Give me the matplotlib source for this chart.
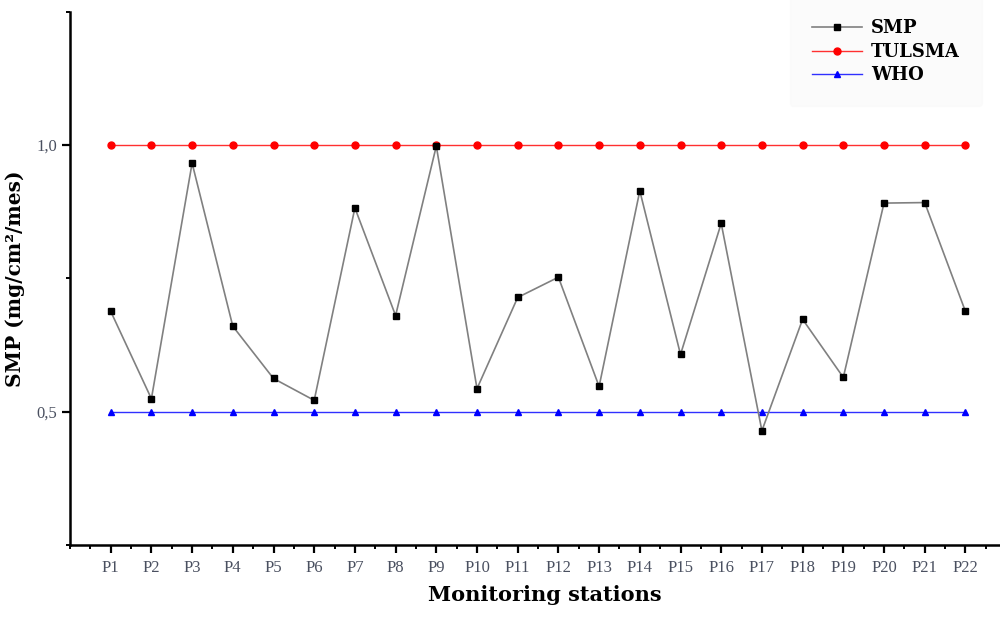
import numpy as np
import matplotlib
matplotlib.use("Agg")
import matplotlib.pyplot as plt
from matplotlib.ticker import MultipleLocator, FuncFormatter

# stations and readings
stations = ["P%d" % i for i in range(1, 23)]
smp = [0.688, 0.524, 0.966, 0.660, 0.562, 0.521, 0.882, 0.680, 0.998, 0.543, 0.714,
       0.752, 0.547, 0.914, 0.607, 0.853, 0.464, 0.673, 0.564, 0.891, 0.892, 0.688]
tulsma = [1.0] * 22
who = [0.5] * 22

plt.rcParams['font.family'] = ['Liberation Serif', 'DejaVu Serif']
label_font = ['DejaVu Serif']

fig = plt.figure(figsize=(10, 6.17), dpi=100)
ax = fig.add_axes([0.07, 0.117, 0.93, 0.864])

x = np.arange(1, len(stations) + 1)
ax.plot(x, smp, color='#808080', lw=1.2, marker='s', ms=4.5,
        mfc='black', mec='black', label='SMP', zorder=3)
ax.plot(x, tulsma, color='#ff3030', lw=1.0, marker='o', ms=5,
        mfc='red', mec='red', label='TULSMA')
ax.plot(x, who, color='#3030ff', lw=1.0, marker='^', ms=5,
        mfc='blue', mec='blue', label='WHO')

ax.set_xlim(0, 22.85)
ax.set_ylim(0.25, 1.25)
ax.set_xticks(x)
ax.set_xticklabels(stations)
ax.xaxis.set_minor_locator(MultipleLocator(0.5))
ax.yaxis.set_major_locator(MultipleLocator(0.5))
ax.yaxis.set_minor_locator(MultipleLocator(0.25))
ax.yaxis.set_major_formatter(FuncFormatter(lambda v, p: ('%.1f' % v).replace('.', ',')))
ax.set_yticks([0.5, 1.0])

for s in ['top', 'right']:
    ax.spines[s].set_visible(False)
for s in ['left', 'bottom']:
    ax.spines[s].set_linewidth(1.8)

ax.tick_params(axis='both', which='major', direction='out', length=6, width=1.6,
               labelsize=12, labelcolor='#4a5060')
ax.tick_params(axis='both', which='minor', direction='out', length=3, width=1.4)
ax.tick_params(axis='x', pad=5)

ax.set_xlabel('Monitoring stations', fontsize=15, fontweight='bold',
              family=label_font, labelpad=7)
ax.xaxis.set_label_coords(0.511, -0.075)
ax.set_ylabel('SMP (mg/cm²/mes)', fontsize=14.5, fontweight='bold',
              family=label_font, labelpad=8)

leg = ax.legend(loc='upper right', bbox_to_anchor=(0.99, 1.043), frameon=True,
                prop={'weight': 'bold', 'size': 13, 'family': label_font},
                handlelength=2.8, handletextpad=0.5, labelspacing=0.3, borderpad=1.2)
leg.get_frame().set_facecolor('#fafafa')
leg.get_frame().set_edgecolor('#fafafa')

fig.savefig('out.png', dpi=100)
